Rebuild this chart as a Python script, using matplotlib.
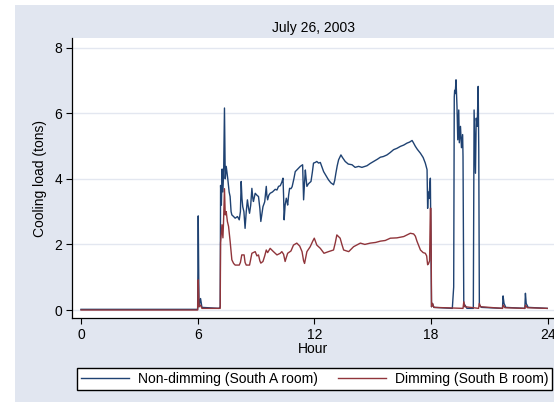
import matplotlib
matplotlib.use("Agg")
import matplotlib.pyplot as plt
from matplotlib.patches import Rectangle

plt.rcParams['font.family'] = ['Liberation Sans', 'DejaVu Sans']

# non-dimming (South A room), hour / tons
hour_a = [0.0, 5.95, 6.0, 6.03, 6.07, 6.15, 6.22, 7.1, 7.16, 7.18, 7.22, 7.26, 7.3, 7.34,
          7.38, 7.42, 7.47, 7.55, 7.62, 7.67, 7.72, 7.76, 7.85, 7.93, 8.05, 8.14, 8.2, 8.24,
          8.28, 8.32, 8.38, 8.44, 8.5, 8.56, 8.62, 8.67, 8.73, 8.79, 8.84, 8.87, 8.92, 8.96,
          9.05, 9.13, 9.2, 9.25, 9.3, 9.36, 9.45, 9.53, 9.56, 9.6, 9.66, 9.73, 9.85, 9.99,
          10.08, 10.16, 10.25, 10.33, 10.39, 10.42, 10.45, 10.5, 10.56, 10.6, 10.63, 10.68,
          10.73, 10.8, 10.86, 10.95, 11.02, 11.15, 11.28, 11.4, 11.43, 11.45, 11.5, 11.54,
          11.58, 11.62, 11.7, 11.83, 11.9, 11.96, 12.05, 12.13, 12.22, 12.31, 12.4, 12.48,
          12.6, 12.73, 12.85, 12.99, 13.05, 13.11, 13.18, 13.25, 13.37, 13.45, 13.59, 13.75,
          13.94, 14.1, 14.28, 14.45, 14.71, 14.88, 15.05, 15.25, 15.4, 15.55, 15.74, 15.9,
          16.08, 16.25, 16.43, 16.6, 16.77, 16.9, 17.03, 17.1, 17.2, 17.3, 17.46, 17.6, 17.71,
          17.77, 17.8, 17.83, 17.86, 17.9, 17.94, 17.97, 18.0, 18.03, 18.08, 18.15, 19.1,
          19.17, 19.2, 19.22, 19.25, 19.29, 19.34, 19.38, 19.43, 19.46, 19.52, 19.57, 19.63,
          19.65, 19.69, 19.75, 19.85, 20.18, 20.22, 20.29, 20.33, 20.38, 20.43, 20.46, 20.49,
          20.6, 21.68, 21.71, 21.76, 21.85, 22.83, 22.86, 22.9, 23.0, 23.98]
load_a = [0.02, 0.02, 0.02, 2.87, 0.1, 0.35, 0.08, 0.05, 0.1, 3.8, 3.2, 4.3, 3.6, 4.3,
          6.16, 4.0, 4.38, 4.0, 3.6, 3.46, 3.0, 2.9, 2.85, 2.8, 2.85, 2.75, 3.0, 3.92,
          3.4, 3.15, 3.0, 2.49, 3.0, 3.36, 3.1, 2.95, 3.2, 3.71, 3.4, 3.31, 3.45, 3.56,
          3.5, 3.46, 3.1, 2.7, 2.9, 3.15, 3.3, 3.77, 3.5, 3.36, 3.5, 3.56, 3.6, 3.68,
          3.66, 3.77, 3.79, 3.9, 4.02, 3.5, 2.75, 3.2, 3.41, 3.3, 3.2, 3.5,
          3.71, 3.7, 3.76, 4.0, 4.22, 4.3, 4.38, 4.43, 3.8, 3.36, 3.9, 4.27,
          4.0, 3.77, 3.85, 3.92, 4.2, 4.48, 4.5, 4.53, 4.48, 4.5, 4.35, 4.22,
          4.1, 3.97, 3.88, 3.82, 3.95, 4.17, 4.4, 4.58, 4.73, 4.65, 4.53, 4.45,
          4.43, 4.35, 4.38, 4.35, 4.4, 4.47, 4.53, 4.6, 4.66, 4.68, 4.73, 4.8,
          4.89, 4.93, 4.99, 5.03, 5.09, 5.12, 5.17, 5.1, 4.99, 4.9, 4.78, 4.65, 4.48,
          4.35, 4.28, 3.1, 3.6, 3.4, 3.8, 4.02, 2.0, 0.1, 0.2, 0.08, 0.05,
          0.7, 6.5, 6.7, 6.6, 7.02, 6.21, 5.19, 6.1, 5.1, 5.6, 4.95, 5.35,
          4.68, 0.1, 0.15, 0.05, 0.05, 6.1, 4.17, 5.85, 5.6, 6.82, 4.89, 0.15,
          0.08, 0.05, 0.43, 0.2, 0.08, 0.05, 0.51, 0.2, 0.08, 0.05]

# dimming (South B room)
hour_b = [0.0, 6.0, 6.03, 6.07, 6.15, 6.22, 7.16, 7.18, 7.25, 7.3, 7.33, 7.38, 7.42, 7.47,
          7.53, 7.59, 7.67, 7.76, 7.85, 7.93, 8.14, 8.2, 8.27, 8.39, 8.44, 8.5, 8.67, 8.73,
          8.79, 8.96, 9.05, 9.13, 9.2, 9.25, 9.36, 9.45, 9.53, 9.6, 9.73, 9.9, 10.08, 10.25,
          10.33, 10.42, 10.5, 10.56, 10.63, 10.8, 10.93, 11.1, 11.25, 11.37, 11.45, 11.5,
          11.56, 11.62, 11.79, 11.92, 12.0, 12.13, 12.31, 12.5, 12.73, 12.99, 13.08, 13.16,
          13.33, 13.42, 13.51, 13.77, 14.02, 14.37, 14.6, 14.88, 15.15, 15.4, 15.65, 15.91,
          16.25, 16.6, 16.94, 17.11, 17.2, 17.28, 17.38, 17.46, 17.6, 17.71, 17.78, 17.83,
          17.88, 17.93, 17.97, 18.0, 18.03, 18.08, 18.15, 19.65, 19.69, 19.75, 20.45, 20.49,
          20.55, 21.68, 21.72, 21.8, 22.83, 22.87, 22.95, 23.98]
load_b = [0.0, 0.0, 0.92, 0.1, 0.15, 0.05, 0.05, 2.05, 2.6, 2.2, 2.65, 3.7, 2.9, 3.0,
          2.7, 2.55, 2.1, 1.53, 1.42, 1.37, 1.37, 1.45, 1.68, 1.68, 1.45, 1.37, 1.37, 1.55,
          1.73, 1.78, 1.65, 1.68, 1.5, 1.43, 1.48, 1.65, 1.83, 1.75, 1.88, 1.78, 1.68, 1.73,
          1.78, 1.7, 1.48, 1.6, 1.73, 1.8, 1.98, 2.04, 1.95, 1.78, 1.5, 1.42,
          1.6, 1.78, 1.93, 2.1, 2.19, 1.98, 1.88, 1.73, 1.78, 1.83, 2.05, 2.29,
          2.19, 2.0, 1.83, 1.78, 1.93, 2.04, 2.0, 2.04, 2.06, 2.1, 2.12, 2.19,
          2.2, 2.24, 2.34, 2.32, 2.25, 2.1, 1.95, 1.83, 1.75, 1.73, 1.65, 1.38,
          1.42, 1.5, 3.1, 3.1, 0.1, 0.2, 0.08, 0.05, 0.25, 0.1, 0.05, 0.2,
          0.1, 0.05, 0.15, 0.07, 0.05, 0.15, 0.07, 0.05]

xticks = [0, 6, 12, 18, 24]
yticks = [0, 2, 4, 6, 8]

W, H = 554, 405
fig = plt.figure(figsize=(W / 100, H / 100), dpi=100)
fig.patch.set_facecolor('white')
bg = Rectangle((15 / W, 3 / H), 1 - 15 / W, (400 - 3) / H,
               transform=fig.transFigure, facecolor='#e1e6f0',
               edgecolor='none', zorder=-10)
fig.patches.append(bg)

ax = fig.add_axes([71.7 / W, 1 - 318.3 / H, 1 - 71.7 / W, (318.3 - 38.3) / H])
ax.set_zorder(1)
ax.set_facecolor('white')
ax.plot(hour_a, load_a, color='#1f4272', lw=1.0, zorder=2,
        label='Non-dimming (South A room)')
ax.plot(hour_b, load_b, color='#90353b', lw=1.0, zorder=3,
        label='Dimming (South B room)')

ax.set_xlim(-0.478, 24.33)
ax.set_ylim(-0.253, 8.286)
ax.set_xticks(xticks)
ax.set_yticks(yticks)
ax.yaxis.grid(True, color='#e3e7f0', lw=1.0)
ax.set_axisbelow(True)
for s in ['top', 'right']:
    ax.spines[s].set_visible(False)
for s in ['left', 'bottom']:
    ax.spines[s].set_color('black')
    ax.spines[s].set_linewidth(0.9)
ax.tick_params(direction='out', length=4, width=0.8, labelsize=10, pad=3)
ax.set_xlabel('Hour', fontsize=10, labelpad=0)
ax.set_ylabel('Cooling load (tons)', fontsize=10, labelpad=5)

fig.text(313.8 / W, 1 - 28 / H, 'July 26, 2003', ha='center', va='center', fontsize=10)

fig.legend(loc='lower left', bbox_to_anchor=(76.7 / W, 1 - 390 / H, (552.3 - 76.7) / W, 26 / H),
           mode='expand', ncol=2, fontsize=10, frameon=True, fancybox=False,
           edgecolor='black', framealpha=1, handlelength=3.5, borderaxespad=0,
           borderpad=0.3, handletextpad=0.6, columnspacing=0.8)

fig.savefig('out.png', dpi=100)
